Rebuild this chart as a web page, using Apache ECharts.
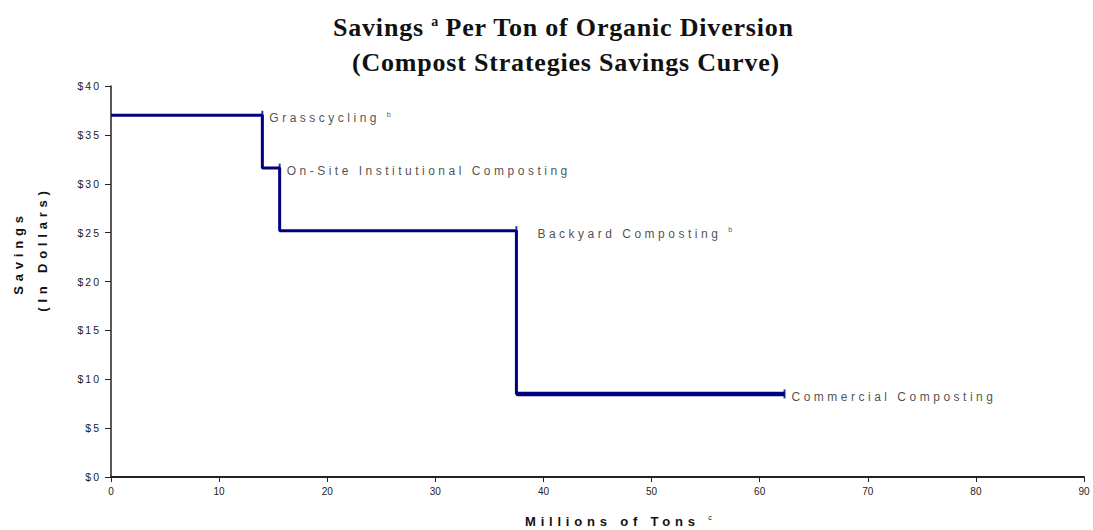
<!DOCTYPE html>
<html><head><meta charset="utf-8">
<script src="https://cdn.jsdelivr.net/npm/echarts@6/dist/echarts.min.js"></script>
<style>
html,body{margin:0;padding:0;background:#fff;}
#c{width:1093px;height:530px;}
#c text{letter-spacing:0;}
#c text[style*="10.5px"]{letter-spacing:2px;}
#c text[style*="12px"]{letter-spacing:3.5px;}
#c text[style*="13px"]{letter-spacing:4.8px;}
#c text[style*="26px"]{letter-spacing:0.8px;}
</style></head>
<body><div id="c"></div>
<script>
const titleLines = ['Savings {sup|a} Per Ton of Organic Diversion', '(Compost Strategies Savings Curve)'];
const xAxisTitle = 'Millions of Tons {sup|c}';
const yAxisTitles = ['Savings', '(In Dollars)'];
const strategies = ['Grasscycling', 'On-Site Institutional Composting', 'Backyard Composting', 'Commercial Composting'];
const footnotes = ['b', '', 'b', ''];
const startTons = [0, 14.0, 15.6, 37.5];
const endTons = [14.0, 15.6, 37.5, 62.3];
const savings = [37.0, 31.6, 25.2, 8.5];

const LABEL_SP = 3.5, NAME_SP = 4.8, TITLE_SP = 0.8;
const labelGaps = [6, 6, 20, 6];
const sans = 'Liberation Sans', serif = 'Liberation Serif';

const stepData = [];
strategies.forEach((s, i) => {
  stepData.push([startTons[i], savings[i]]);
  stepData.push([endTons[i], savings[i]]);
});
const last = strategies.length - 1;
const lastStep = [[startTons[last], savings[last]], [endTons[last], savings[last]]];
const endData = strategies.map((s, i) => ({
  value: [endTons[i], savings[i]],
  label: {
    distance: labelGaps[i],
    formatter: footnotes[i] ? s + ' {sup|' + footnotes[i] + '}' : s,
    rich: { sup: { fontFamily: sans, fontSize: 7, verticalAlign: 'top', color: '#222',
      padding: [0, 0, 8, (s.length + 1) * LABEL_SP] } }
  }
}));

const chart = echarts.init(document.getElementById('c'), null, {renderer: 'svg'});
chart.setOption({
  animation: false,
  backgroundColor: '#fff',
  graphic: [
    { type: 'text', x: 333, y: 27,
      style: { text: titleLines[0], fontFamily: serif, fontWeight: 'bold', fontSize: 26, fill: '#111', align: 'left', verticalAlign: 'middle',
        rich: { sup: { fontFamily: serif, fontWeight: 'bold', fontSize: 14, fill: '#111', verticalAlign: 'top', padding: [0, 0, 6, 8 * TITLE_SP] } } } },
    { type: 'text', x: 352, y: 62,
      style: { text: titleLines[1], fontFamily: serif, fontWeight: 'bold', fontSize: 26, fill: '#111', align: 'left', verticalAlign: 'middle' } },
    { type: 'text', x: 525, y: 521,
      style: { text: xAxisTitle, fontFamily: sans, fontWeight: 'bold', fontSize: 13, fill: '#111', align: 'left', verticalAlign: 'middle',
        rich: { sup: { fontFamily: sans, fontSize: 7, fill: '#111', verticalAlign: 'top', padding: [0, 0, 8, 17 * NAME_SP] } } } },
    { type: 'text', x: 18, y: 253, rotation: Math.PI / 2,
      style: { text: yAxisTitles[0], font: 'bold 13px "Liberation Sans"', fill: '#111', align: 'center', verticalAlign: 'middle' } },
    { type: 'text', x: 42, y: 249, rotation: Math.PI / 2,
      style: { text: yAxisTitles[1], font: 'bold 13px "Liberation Sans"', fill: '#111', align: 'center', verticalAlign: 'middle' } }
  ],
  grid: { left: 111, right: 9, top: 86, bottom: 53 },
  xAxis: {
    type: 'value', min: 0, max: 90, interval: 10,
    axisLine: { lineStyle: { color: '#222', width: 2 } },
    axisTick: { show: true, length: 5, lineStyle: { color: '#222' } },
    axisLabel: { fontFamily: sans, fontSize: 10, color: '#222', margin: 9 },
    splitLine: { show: false }
  },
  yAxis: {
    type: 'value', min: 0, max: 40, interval: 5,
    axisLine: { show: true, lineStyle: { color: '#222', width: 1.5 } },
    axisTick: { show: true, length: 6, lineStyle: { color: '#222' } },
    axisLabel: { fontFamily: sans, fontSize: 10.5, color: '#222', margin: 10, formatter: v => '$' + v },
    splitLine: { show: false }
  },
  series: [
    { type: 'line', data: stepData, symbol: 'none', lineStyle: { color: '#000080', width: 3 }, z: 3 },
    { type: 'line', data: lastStep, symbol: 'none', lineStyle: { color: '#000080', width: 4.5 }, z: 3 },
    { type: 'scatter', data: endData, symbol: 'rect', symbolSize: [2, 9], itemStyle: { color: '#000080' }, z: 4,
      label: { show: true, position: 'right', offset: [0, 3], fontFamily: sans, fontSize: 12, color: '#222' } }
  ]
});
</script></body></html>
